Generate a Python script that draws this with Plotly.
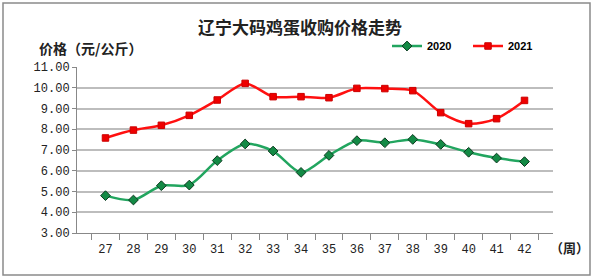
import plotly.graph_objects as go

weeks = [str(w) for w in range(27, 43)]
price_2020 = [4.80, 4.59, 5.28, 5.31, 6.49, 7.29, 6.95, 5.92, 6.74, 7.45, 7.35, 7.51, 7.27, 6.89, 6.61, 6.44]
price_2021 = [7.58, 7.96, 8.19, 8.67, 9.41, 10.21, 9.57, 9.57, 9.52, 9.97, 9.96, 9.86, 8.80, 8.27, 8.51, 9.39]
y_ticks = [3, 4, 5, 6, 7, 8, 9, 10, 11]

W, H = 594, 279
L, R, T, B = 77, 41, 67, 46
pw, ph = W - L - R, H - T - B

def px(x):
    return (x - L) / pw

def py(y):
    return (H - B - y) / ph

fig = go.Figure()
fig.add_trace(go.Scatter(
    x=weeks, y=price_2020, name="2020", mode="lines+markers",
    line=dict(color="#22a55f", width=2.5, shape="spline", smoothing=0.8),
    marker=dict(symbol="diamond", size=7.5, color="#138a45", line=dict(color="#0a3a1e", width=1)),
))
fig.add_trace(go.Scatter(
    x=weeks, y=price_2021, name="2021", mode="lines+markers",
    line=dict(color="#ff1010", width=2.5, shape="spline", smoothing=0.8),
    marker=dict(symbol="square", size=6.5, color="#ee0000", line=dict(color="#cc0000", width=1)),
))

fig.update_layout(
    width=W, height=H,
    margin=dict(l=L, r=R, t=T, b=B, autoexpand=False),
    paper_bgcolor="white", plot_bgcolor="white",
    showlegend=True,
    legend=dict(orientation="h", x=px(387), y=py(46), xanchor="left", yanchor="middle",
                font=dict(family="Liberation Sans", size=11, color="black", weight="bold"),
                bgcolor="rgba(0,0,0,0)", itemwidth=30, tracegroupgap=0,
                entrywidth=36, entrywidthmode="pixels"),
    title=dict(text="<b>辽宁大码鸡蛋收购价格走势</b>", x=0.505, xanchor="center", y=1 - 28 / H, yanchor="middle",
               font=dict(family="Noto Sans CJK SC", size=17, color="#222")),
    font=dict(family="Liberation Mono", size=12, color="#222"),
)

fig.update_xaxes(
    type="category", showgrid=False, showline=True, linecolor="#888", linewidth=1,
    ticks="outside", tickson="boundaries", ticklen=6, tickcolor="#888",
    tickangle=0, ticklabelstandoff=5,
    tickfont=dict(family="Liberation Mono", size=12, color="#222"),
    zeroline=False,
)
fig.update_yaxes(
    range=[3, 11], tickvals=y_ticks, ticktext=[f"{v:.2f}" for v in y_ticks],
    showgrid=True, gridcolor="#bdbdbd", gridwidth=1.5,
    showline=True, linecolor="#888", linewidth=1,
    ticks="outside", ticklen=4, tickcolor="#888",
    tickfont=dict(family="Liberation Mono", size=12, color="#222"),
    zeroline=False,
)

fig.add_annotation(text="<b>价格（元/公斤）</b>", xref="paper", yref="paper",
                   x=px(37), y=py(48), xanchor="left", yanchor="middle", showarrow=False,
                   font=dict(family="Noto Sans CJK SC", size=14, color="#222"))
fig.add_annotation(text="<b>（周）</b>", xref="paper", yref="paper",
                   x=px(548), y=py(247), xanchor="left", yanchor="middle", showarrow=False,
                   font=dict(family="Noto Sans CJK SC", size=13, color="#222"))

fig.add_shape(type="rect", xref="paper", yref="paper",
              x0=px(3), x1=px(590), y0=py(275), y1=py(3),
              line=dict(color="#8a8a8a", width=1.5), fillcolor="rgba(0,0,0,0)", layer="below")

fig.write_html("out.html")
